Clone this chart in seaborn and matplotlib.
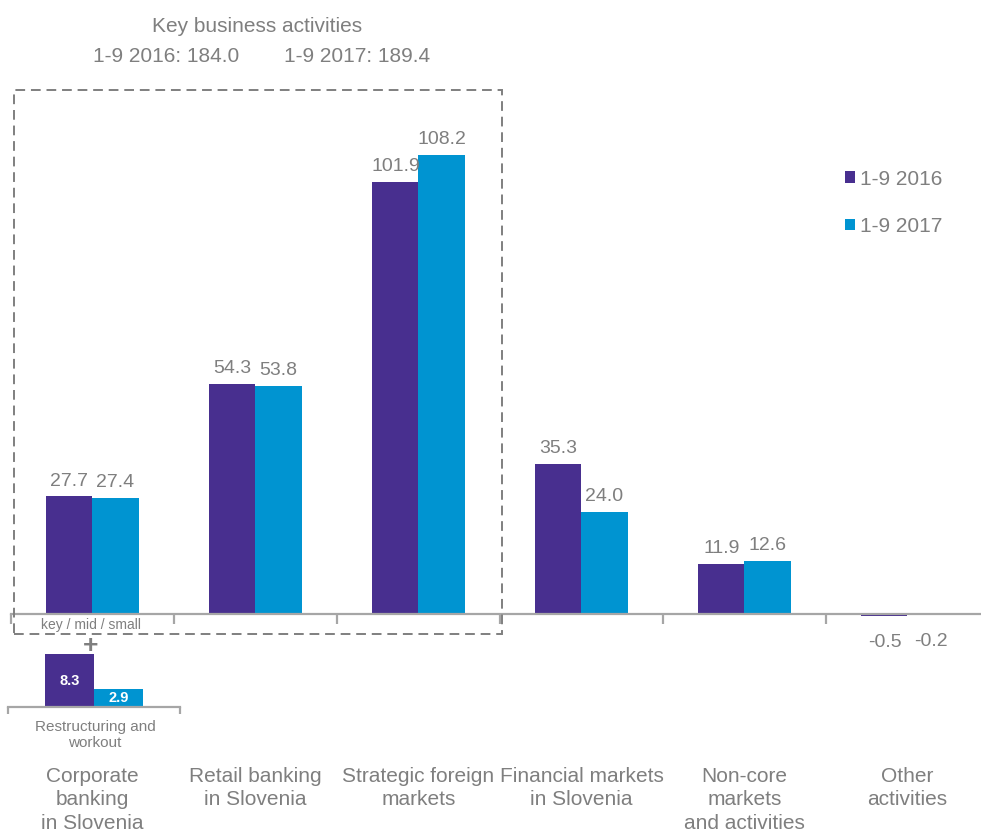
import matplotlib
matplotlib.use("Agg")
import matplotlib.pyplot as plt
import matplotlib.transforms as mtransforms
from matplotlib.patches import Rectangle
import seaborn as sns
import pandas as pd

# Segment results, 1-9 2016 vs 1-9 2017
categories = ["Corporate\nbanking\nin Slovenia", "Retail banking\nin Slovenia",
              "Strategic foreign\nmarkets", "Financial markets\nin Slovenia",
              "Non-core\nmarkets\nand activities", "Other\nactivities"]
periods = ["1-9 2016", "1-9 2017"]
values_2016 = [27.7, 54.3, 101.9, 35.3, 11.9, -0.5]
values_2017 = [27.4, 53.8, 108.2, 24.0, 12.6, -0.2]

# Restructuring and workout (shown under corporate banking)
restructuring_2016 = [8.3]
restructuring_2017 = [2.9]

key_totals = {"1-9 2016": 184.0, "1-9 2017": 189.4}

PURPLE = "#482F8F"
BLUE = "#0094D1"
GRAY = "#7F7F7F"
AXIS = "#A6A6A6"

sns.set_theme(style="white")
plt.rcParams["font.family"] = ["Liberation Sans", "DejaVu Sans"]

W, H = 981, 835
fig = plt.figure(figsize=(W / 100, H / 100), dpi=100)


def fig_box(x0, y0, x1, y1):
    """Pixel box (top-left origin) -> figure fraction [l, b, w, h]."""
    return [x0 / W, 1 - y1 / H, (x1 - x0) / W, (y1 - y0) / H]


# ---- main chart ----
ax = fig.add_axes(fig_box(11, 100, 985, 700))
df = pd.DataFrame({
    "category": categories * 2,
    "period": [periods[0]] * len(categories) + [periods[1]] * len(categories),
    "value": values_2016 + values_2017,
})
group_w = 0.565
sns.barplot(data=df, x="category", y="value", hue="period", order=categories,
            hue_order=periods, palette=[PURPLE, BLUE], saturation=1,
            width=group_w, errorbar=None, linewidth=0, ax=ax)

px_per_cat = 163.0
ax.set_xlim(-0.5, -0.5 + 974 / px_per_cat)
scale = 459 / 108.2
ax.set_ylim(-(700 - 614) / scale, (614 - 100) / scale)

for s in ["top", "right", "left"]:
    ax.spines[s].set_visible(False)
ax.spines["bottom"].set_position(("data", 0))
ax.spines["bottom"].set_color(AXIS)
ax.spines["bottom"].set_linewidth(1.6)
ax.set_yticks([])
ax.set_xticks([i - 0.5 for i in range(len(categories))])
ax.set_xticklabels([])
ax.tick_params(axis="x", direction="out", length=7, width=1.6, color=AXIS,
               bottom=True)
ax.set_xlabel("")
ax.set_ylabel("")

# value labels
offs = group_w / 4
for i, (a, b) in enumerate(zip(values_2016, values_2017)):
    for x, v in ((i - offs, a), (i + offs, b)):
        if v >= 0:
            ax.annotate(f"{v:.1f}", (x, v), xytext=(0, 5), textcoords="offset points",
                        ha="center", va="bottom", fontsize=14, color=GRAY)
        else:
            ax.annotate(f"{v:.1f}", (x, v), xytext=(0, -13), textcoords="offset points",
                        ha="center", va="top", fontsize=14, color=GRAY)

# category labels
tr = mtransforms.blended_transform_factory(ax.transData, fig.transFigure)
for i, c in enumerate(categories):
    ax.text(i, 1 - 767 / H, c, transform=tr, ha="center", va="top",
            fontsize=15, color=GRAY, linespacing=1.29)

# legend
handles, labels = ax.get_legend_handles_labels()
ax.legend(handles, labels, loc="upper left", bbox_to_anchor=(826 / W, 1 - 151 / H),
          bbox_transform=fig.transFigure, frameon=False, fontsize=15,
          handlelength=0.5, handleheight=0.5, handletextpad=0.25,
          labelspacing=1.35, labelcolor=GRAY)

# ---- key business activities frame ----
fig.patches.append(Rectangle((14 / W, 1 - 634 / H), (502 - 14) / W, (634 - 90) / H,
                             transform=fig.transFigure, fill=False, edgecolor=GRAY,
                             linestyle=(0, (5, 3)), linewidth=1.4))
fig.text(257 / W, 1 - 27 / H, "Key business activities", ha="center", va="center",
         fontsize=15, color=GRAY)
fig.text(166 / W, 1 - 57 / H, f"1-9 2016: {key_totals['1-9 2016']:.1f}", ha="center",
         va="center", fontsize=15, color=GRAY)
fig.text(357 / W, 1 - 57 / H, f"1-9 2017: {key_totals['1-9 2017']:.1f}", ha="center",
         va="center", fontsize=15, color=GRAY)
fig.text(91 / W, 1 - 625 / H, "key / mid / small", ha="center", va="center",
         fontsize=10, color=GRAY)
fig.text(91 / W, 1 - 646 / H, "+", ha="center", va="center", fontsize=19,
         fontweight="bold", color=GRAY)

# ---- restructuring inset ----
ax2 = fig.add_axes(fig_box(8, 640, 180, 712))
df2 = pd.DataFrame({"category": ["Restructuring"] * 2, "period": periods,
                    "value": restructuring_2016 + restructuring_2017})
sns.barplot(data=df2, x="category", y="value", hue="period", hue_order=periods,
            palette=[PURPLE, BLUE], saturation=1, width=0.57, errorbar=None,
            linewidth=0, legend=False, ax=ax2)
ax2.set_xlim(-0.5, 0.5)
s2 = 6.35
ax2.set_ylim(-(712 - 707) / s2, (707 - 640) / s2)
for s in ["top", "right", "left"]:
    ax2.spines[s].set_visible(False)
ax2.spines["bottom"].set_position(("data", 0))
ax2.spines["bottom"].set_color(AXIS)
ax2.spines["bottom"].set_linewidth(1.6)
ax2.set_yticks([])
ax2.set_xticks([-0.5, 0.5])
ax2.set_xticklabels([])
ax2.tick_params(axis="x", direction="out", length=5, width=1.6, color=AXIS, bottom=True)
ax2.set_xlabel("")
ax2.set_ylabel("")
ax2.patch.set_alpha(0)
o2 = 0.57 / 4
for x, v in ((-o2, restructuring_2016[0]), (o2, restructuring_2017[0])):
    ax2.text(x, v / 2, f"{v:.1f}", ha="center", va="center", fontsize=10.5,
             fontweight="bold", color="white")
fig.text(95 / W, 1 - 735 / H, "Restructuring and\nworkout", ha="center", va="center",
         fontsize=11, color=GRAY, linespacing=1.15)

fig.savefig("out.png", dpi=100)
